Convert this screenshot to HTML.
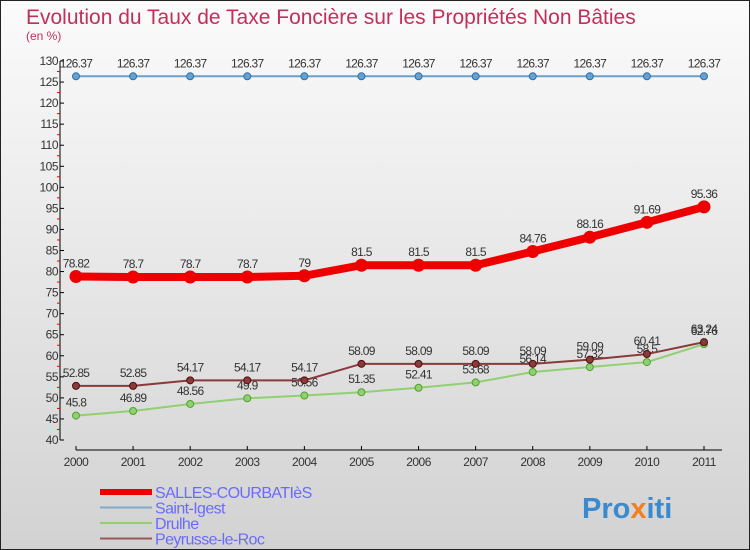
<!DOCTYPE html>
<html><head><meta charset="utf-8"><style>
body{margin:0;}
svg{display:block;font-family:"Liberation Sans",sans-serif;}
</style></head><body>
<svg id="chart" width="750" height="550" xmlns="http://www.w3.org/2000/svg">
<defs><linearGradient id="bg" x1="0" y1="0" x2="0" y2="1"><stop offset="0" stop-color="#fbfbfb"/><stop offset="1" stop-color="#d2d2d2"/></linearGradient></defs>
<rect x="0.5" y="0.5" width="749" height="549" fill="url(#bg)" stroke="#222"/>
<text x="26" y="24" font-size="21" fill="#c0305a">Evolution du Taux de Taxe Foncière sur les Propriétés Non Bâties</text>
<text x="26" y="40" font-size="12" fill="#c0305a">(en %)</text>
<g id="axes"></g>
<g id="series"></g>
<g id="legend"></g>
<text x="582" y="518" font-size="29" font-weight="bold" fill="#3a8ad0">Pro<tspan fill="#f08020">x</tspan>iti</text>
</svg>
<script>
const years=[2000,2001,2002,2003,2004,2005,2006,2007,2008,2009,2010,2011];
const salles=[78.82,78.7,78.7,78.7,79,81.5,81.5,81.5,84.76,88.16,91.69,95.36];
const igest=[126.37,126.37,126.37,126.37,126.37,126.37,126.37,126.37,126.37,126.37,126.37,126.37];
const drulhe=[45.8,46.89,48.56,49.9,50.56,51.35,52.41,53.68,56.14,57.32,58.5,62.76];
const peyrusse=[52.85,52.85,54.17,54.17,54.17,58.09,58.09,58.09,58.09,59.09,60.41,63.24];
const yTicks=[40,45,50,55,60,65,70,75,80,85,90,95,100,105,110,115,120,125,130];
const NS="http://www.w3.org/2000/svg";
const x=i=>76+i*(628/11);
const y=v=>440-(v-40)*(379/90);
function mk(tag,attrs,parent,txt){const e=document.createElementNS(NS,tag);for(const k in attrs)e.setAttribute(k,attrs[k]);if(txt!==undefined)e.textContent=txt;parent.appendChild(e);return e;}
const ax=document.getElementById('axes');
let e=mk('line',{x1:60,y1:y(130),x2:60,y2:y(40),stroke:'#000'},ax);


e=mk('line',{x1:76,y1:450,x2:722,y2:450,stroke:'#000'},ax);


yTicks.forEach((t,i)=>{
  mk('line',{x1:60,y1:y(t),x2:64,y2:y(t),stroke:'#000'},ax);
  if(i<yTicks.length-1)mk('line',{x1:57,y1:y(t+2.5),x2:60,y2:y(t+2.5),stroke:'#e00'},ax);
  const l=mk('text',{x:58,y:y(t)+4,'font-size':12,fill:'#333','text-anchor':'end','letter-spacing':'-0.5'},ax,t);
  
  
});
years.forEach((yr,i)=>{
  mk('line',{x1:x(i),y1:446,x2:x(i),y2:450,stroke:'#000'},ax);
  const l=mk('text',{x:x(i),y:466,'font-size':12,fill:'#333','text-anchor':'middle','letter-spacing':'-0.5'},ax,yr);
  
  
});
const sg=document.getElementById('series');
function series(vals,color,w,r,name,dotStroke){
  const g=mk('g',{},sg);
  
  
  mk('polyline',{points:vals.map((v,i)=>x(i)+','+y(v)).join(' '),fill:'none',stroke:color,'stroke-width':w},g);
  vals.forEach((v,i)=>{
    const c=mk('circle',{cx:x(i),cy:y(v),r:r,fill:color,stroke:dotStroke,'stroke-width':1},g);
    
    
    const t=mk('text',{x:x(i),y:y(v)-9,'font-size':12,fill:'#333','text-anchor':'middle','letter-spacing':'-0.7'},g,v);
    
    
  });
}
series(igest,'#6aa0cc',2,3.5,'saint-igest','#2a70b0');
series(drulhe,'#90d070',2,3.5,'drulhe','#50a030');
series(peyrusse,'#8a3a3a',2,3.5,'peyrusse','#501010');
series(salles,'#ee0000',8,6,'salles-courbaties','#ee0000');
const lg=document.getElementById('legend');
const items=[['SALLES-COURBATIèS','#ee0000',6],['Saint-Igest','#80aacc',2],['Drulhe','#90d070',2],['Peyrusse-le-Roc','#9a5a5a',2]];
items.forEach((it,i)=>{
  const yy=492+i*15.5;
  const g=mk('g',{},lg);
  
  
  mk('line',{x1:100,y1:yy,x2:152,y2:yy,stroke:it[1],'stroke-width':it[2]},g);
  mk('text',{x:155,y:yy+6,'font-size':16,fill:'#6a6aff','letter-spacing':'-0.6'},g,it[0]);
});
</script>
</body></html>
